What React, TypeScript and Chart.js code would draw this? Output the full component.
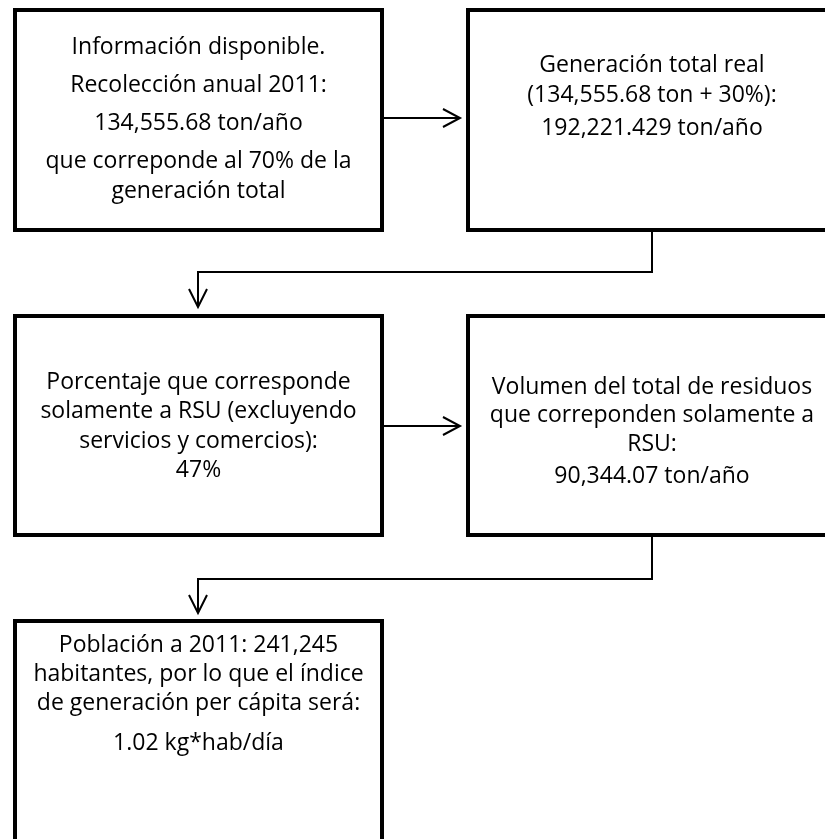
import React, { useEffect, useRef } from "react";
import { Chart, registerables } from "chart.js";

Chart.register(...registerables);

// Flowchart boxes (diagram coordinates, y grows downward)
const boxLeft = [15, 468, 15, 468, 15];
const boxTop = [10, 10, 316, 316, 621];
const boxRight = [382, 836, 382, 836, 382];
const boxBottom = [230, 230, 535, 535, 860];

// Box texts: paragraphs of lines
const boxTexts: string[][][] = [
  [["Información disponible."], ["Recolección anual 2011:"], ["134,555.68 ton/año"], ["que correponde al 70% de la", "generación total"]],
  [["Generación total real", "(134,555.68 ton + 30%):"], ["192,221.429 ton/año"]],
  [["Porcentaje que corresponde", "solamente a RSU (excluyendo", "servicios y comercios):", "47%"]],
  [["Volumen del total de residuos", "que correponden solamente a", "RSU:"], ["90,344.07 ton/año"]],
  [["Población a 2011: 241,245", "habitantes, por lo que el índice", "de generación per cápita será:"], ["1.02 kg*hab/día"]],
];
const textFirstLine = [37, 55, 66, 71, 24];
const textLineStep = [30, 30, 29.5, 28.5, 29];
const textParaStep = [38, 33, 30, 32, 40];
const textScaleX = [1, 1, 1, 1, 1];

// Connector polylines and arrow heads
const connectors: number[][][] = [
  [[384, 118], [459, 118]],
  [[384, 426], [459, 426]],
  [[652, 232], [652, 272], [198, 272], [198, 306]],
  [[652, 537], [652, 579], [198, 579], [198, 612]],
];
const arrowHeads: number[][][] = [
  [[443, 109], [460, 118], [443, 127]],
  [[443, 417], [460, 426], [443, 435]],
  [[189, 289], [198, 307], [207, 289]],
  [[189, 595], [198, 613], [207, 595]],
];

const W = 825;
const H = 839;
const FONT = "'Open Sans', Lato, sans-serif";
const FONT_SIZE = 23;

export default function App() {
  const ref = useRef<HTMLCanvasElement | null>(null);

  useEffect(() => {
    if (!ref.current) return;
    const datasets: any[] = [];
    boxLeft.forEach((l, i) => {
      const r = boxRight[i], t = boxTop[i], b = boxBottom[i];
      datasets.push({
        data: [{ x: l, y: t }, { x: r, y: t }, { x: r, y: b }, { x: l, y: b }, { x: l, y: t }],
        showLine: true,
        borderColor: "#000",
        borderWidth: 4,
        borderJoinStyle: "miter",
        borderCapStyle: "square",
        pointRadius: 0,
        fill: false,
        tension: 0,
        clip: false,
      });
    });
    [...connectors, ...arrowHeads].forEach((pts) => {
      datasets.push({
        data: pts.map(([x, y]) => ({ x, y })),
        showLine: true,
        borderColor: "#000",
        borderWidth: 2,
        borderJoinStyle: "miter",
        borderCapStyle: "butt",
        pointRadius: 0,
        fill: false,
        tension: 0,
        clip: false,
      });
    });

    const textPlugin = {
      id: "boxText",
      afterDatasetsDraw(chart: any) {
        const ctx = chart.ctx as CanvasRenderingContext2D;
        const xs = chart.scales.x;
        const ys = chart.scales.y;
        ctx.save();
        ctx.fillStyle = "#000";
        ctx.font = `${FONT_SIZE}px ${FONT}`;
        ctx.textAlign = "center";
        ctx.textBaseline = "middle";
        boxTexts.forEach((paras, i) => {
          const cx = xs.getPixelForValue((boxLeft[i] + boxRight[i]) / 2);
          let yv = boxTop[i] + textFirstLine[i];
          paras.forEach((lines, pi) => {
            if (pi > 0) yv += textParaStep[i] - textLineStep[i];
            lines.forEach((line) => {
              const py = ys.getPixelForValue(yv);
              ctx.save();
              ctx.translate(cx, py);
              ctx.scale(textScaleX[i], 1);
              ctx.fillText(line, 0, 0);
              ctx.restore();
              yv += textLineStep[i];
            });
          });
        });
        ctx.restore();
      },
    };

    const chart = new Chart(ref.current, {
      type: "scatter",
      data: { datasets },
      options: {
        animation: false,
        responsive: false,
        maintainAspectRatio: false,
        devicePixelRatio: 1,
        events: [],
        layout: { padding: 0 },
        scales: {
          x: { type: "linear", min: 0, max: W, display: false },
          y: { type: "linear", min: 0, max: H, reverse: true, display: false },
        },
        plugins: { legend: { display: false }, tooltip: { enabled: false }, title: { display: false } },
      },
      plugins: [textPlugin],
    } as any);
    return () => chart.destroy();
  }, []);

  return (
    <div style={{ position: "fixed", left: 0, top: 0, width: W, height: H, background: "#fff" }}>
      <canvas ref={ref} width={W} height={H} style={{ display: "block", width: W, height: H }} />
    </div>
  );
}
